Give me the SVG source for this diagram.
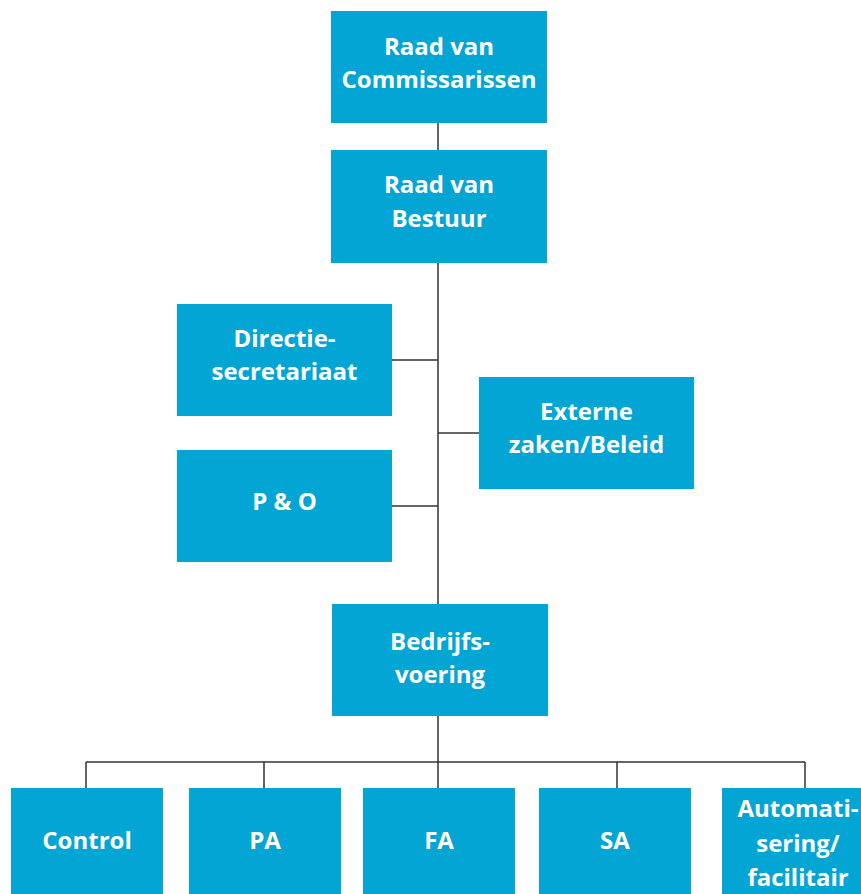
<svg xmlns="http://www.w3.org/2000/svg" width="861" height="894" viewBox="0 0 861 894">
<style>
.box{fill:#03a5d5}
.t{font-family:"Open Sans","Noto Sans","Liberation Sans",sans-serif;font-weight:700;font-size:24px;fill:#fff;text-anchor:middle}
.c{stroke:#333;stroke-width:1.5;fill:none}
</style>
<rect width="861" height="894" fill="#fff"/>
<g id="connectors">
<path class="c" d="M438,123 V604 M392,360 H438 M438,433 H479 M392,506 H438 M438,716 V762 M86,762 H805 M86,762 V788 M264,762 V788 M438,762 V788 M617,762 V788 M805,762 V788"/>
</g>
<g id="rvc"><rect class="box" x="331" y="11" width="216" height="112"/><text class="t" x="439" y="55">Raad van</text><text class="t" x="439" y="88">Commissarissen</text></g>
<g id="rvb"><rect class="box" x="331" y="150" width="216" height="113"/><text class="t" x="439" y="193">Raad van</text><text class="t" x="439" y="227">Bestuur</text></g>
<g id="directie"><rect class="box" x="177" y="304" width="215" height="112"/><text class="t" x="284.5" y="347">Directie-</text><text class="t" x="284.5" y="380">secretariaat</text></g>
<g id="externe"><rect class="box" x="479" y="377" width="215" height="112"/><text class="t" x="586.5" y="420">Externe</text><text class="t" x="586.5" y="453">zaken/Beleid</text></g>
<g id="po"><rect class="box" x="177" y="450" width="215" height="112"/><text class="t" x="284.5" y="510">P &amp; O</text></g>
<g id="bedrijfsvoering"><rect class="box" x="332" y="604" width="216" height="112"/><text class="t" x="440" y="650">Bedrijfs-</text><text class="t" x="440" y="683">voering</text></g>
<g id="control"><rect class="box" x="11" y="788" width="152" height="110"/><text class="t" x="87" y="849">Control</text></g>
<g id="pa"><rect class="box" x="189" y="788" width="152" height="110"/><text class="t" x="265" y="849">PA</text></g>
<g id="fa"><rect class="box" x="363" y="788" width="152" height="110"/><text class="t" x="439" y="849">FA</text></g>
<g id="sa"><rect class="box" x="539" y="788" width="152" height="110"/><text class="t" x="615" y="849">SA</text></g>
<g id="automatisering"><rect class="box" x="722" y="788" width="152" height="110"/><text class="t" x="798" y="817">Automati-</text><text class="t" x="798" y="852">sering/</text><text class="t" x="798" y="886">facilitair</text></g>
</svg>
